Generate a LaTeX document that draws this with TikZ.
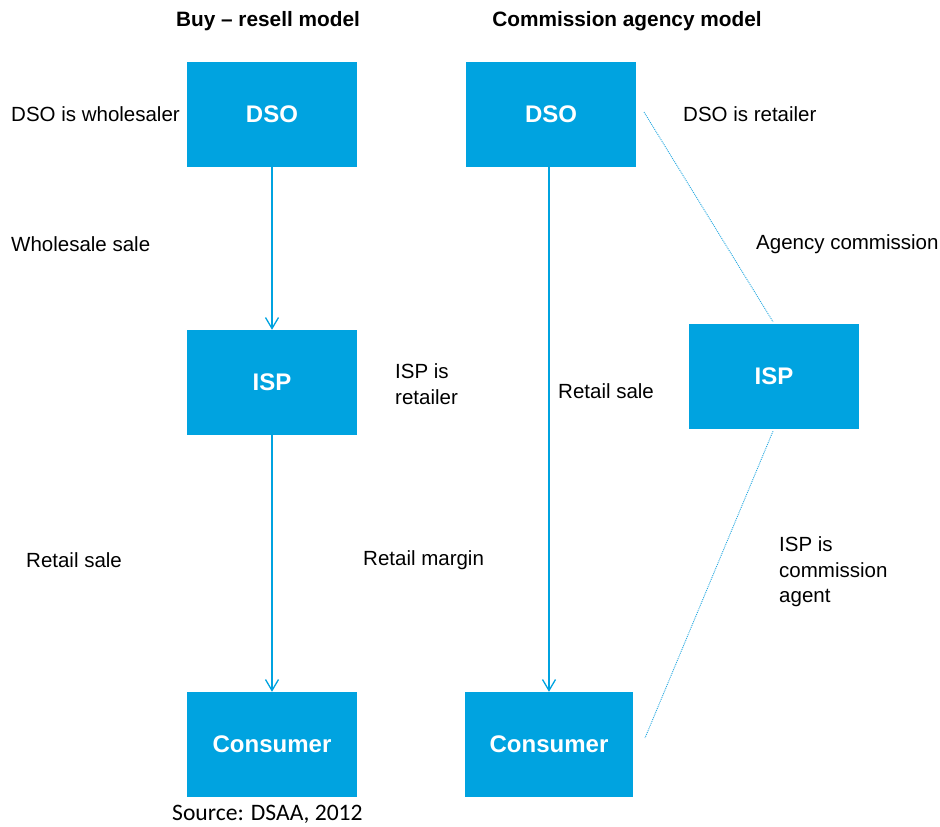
\documentclass[tikz,border=0pt]{standalone}
\usepackage{fontspec}
\setmainfont{Liberation Sans}
\newfontfamily\srcfont{Carlito}
\usetikzlibrary{arrows.meta,calc}
\definecolor{boxblue}{RGB}{0,163,224}
\definecolor{dotblue}{RGB}{40,170,225}
\tikzset{
  box/.style={rectangle, fill=boxblue, draw=none, minimum width=170pt, minimum height=105pt, inner sep=0pt, text=white, font=\fontsize{24}{28}\selectfont\bfseries},
  lbl/.style={anchor=west, inner sep=0pt, align=left, font=\fontsize{20.5}{25.5}\selectfont},
  ttl/.style={inner sep=0pt, font=\fontsize{20.8}{24}\selectfont\bfseries},
  flow/.style={draw=boxblue, line width=1.3pt, -{Straight Barb[length=11pt,width=13pt,line width=1.3pt]}},
  dots/.style={draw=dotblue, line width=0.9pt, dash pattern=on 1pt off 1pt}
}
\begin{document}
\begin{tikzpicture}[x=1pt,y=-1pt]
\useasboundingbox (0,0) rectangle (940,827);
% titles
\node[ttl] (t1) at (268,21.5) {Buy -- resell model};
\node[ttl] (t2) at (627,21.5) {Commission agency model};
% boxes
\node[box] (ldso) at (272,114.5) {DSO};
\node[box] (lisp) at (272,382.5) {ISP};
\node[box] (lcons) at (272,744.5) {Consumer};
\node[box] (rdso) at (551,114.5) {DSO};
\node[box] (risp) at (774,376.5) {ISP};
\node[box, minimum width=168pt] (rcons) at (549,744.5) {Consumer};
% arrows
\draw[flow] (ldso.south) -- (lisp.north);
\draw[flow] (lisp.south) -- (lcons.north);
\draw[flow] (rdso.south -| rcons.north) -- (rcons.north);
% dotted lines
\coordinate (dA) at (644,112);
\coordinate (dB) at (645,738);
\draw[dots] (dA) -- ($(risp.north)+(-1,-2)$);
\draw[dots] ($(risp.south)+(-1,2)$) -- (dB);
% labels
\node[lbl] (l1) at (11,114.5) {DSO is wholesaler};
\node[lbl] (l2) at (11,244.5) {Wholesale sale};
\node[lbl] (l3) at (395,384) {ISP is\\retailer};
\node[lbl] (l4) at (26,560.5) {Retail sale};
\node[lbl] (l5) at (363,560.5) {Retail margin};
\node[lbl] (l6) at (683,114.5) {DSO is retailer};
\node[lbl] (l7) at (756,244.5) {Agency commission};
\node[lbl] (l8) at (558,391.5) {Retail sale};
\node[lbl] (l9) at (779,572) {ISP is\\commission\\agent};
% source
\node[anchor=west, inner sep=0pt, font=\srcfont\fontsize{23.6}{27}\selectfont] (src) at (172,814.5) {Source: DSAA, 2012};
\end{tikzpicture}
\end{document}
